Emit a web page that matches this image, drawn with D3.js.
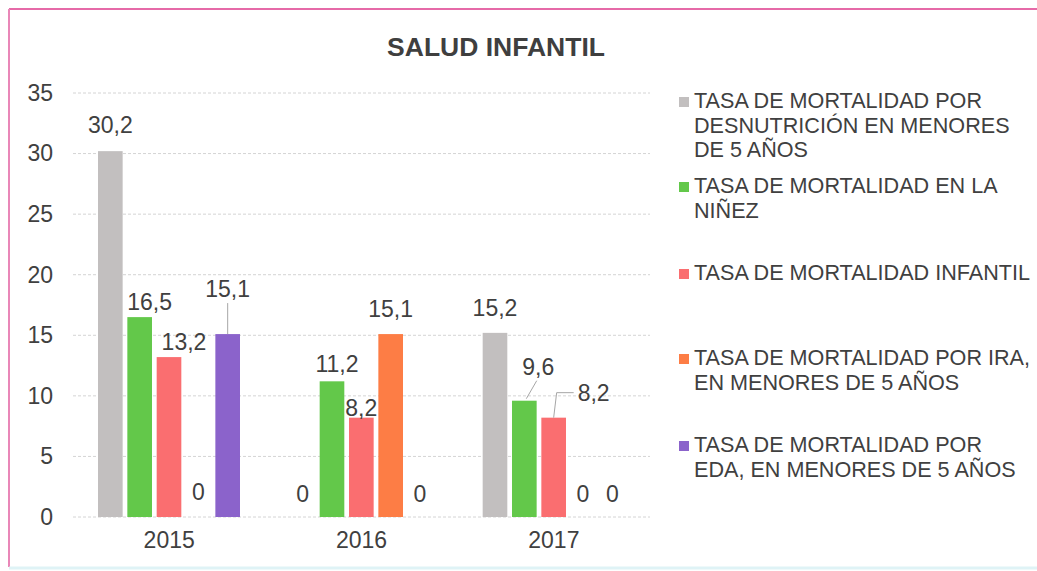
<!DOCTYPE html>
<html>
<head>
<meta charset="utf-8">
<script src="https://cdn.jsdelivr.net/npm/d3@7"></script>
<style>
  html, body { margin: 0; padding: 0; background: #ffffff; }
  svg { display: block; font-family: "Liberation Sans", Arial, sans-serif; }
</style>
</head>
<body>
<svg id="chart" width="1037" height="571"></svg>
<script>
// ---- Data ----
const years = ["2015", "2016", "2017"];
const seriesNames = [
  "TASA DE MORTALIDAD POR DESNUTRICIÓN EN MENORES DE 5 AÑOS",
  "TASA DE MORTALIDAD EN LA NIÑEZ",
  "TASA DE MORTALIDAD INFANTIL",
  "TASA DE MORTALIDAD POR IRA, EN MENORES DE 5 AÑOS",
  "TASA DE MORTALIDAD POR EDA, EN MENORES DE 5 AÑOS"
];
const desnutricion = [30.2, 0, 15.2];
const ninez        = [16.5, 11.2, 9.6];
const infantil     = [13.2, 8.2, 8.2];
const ira          = [0, 15.1, 0];
const eda          = [15.1, 0, 0];
const yTicks = [0, 5, 10, 15, 20, 25, 30, 35];
const title = "SALUD INFANTIL";

// legend line breaks (as in the original)
const legendLines = [
  ["TASA DE MORTALIDAD POR", "DESNUTRICIÓN EN MENORES", "DE 5 AÑOS"],
  ["TASA DE MORTALIDAD EN LA", "NIÑEZ"],
  ["TASA DE MORTALIDAD INFANTIL"],
  ["TASA DE MORTALIDAD POR IRA,", "EN MENORES DE 5 AÑOS"],
  ["TASA DE MORTALIDAD POR", "EDA, EN MENORES DE 5 AÑOS"]
];

// ---- Styling / layout ----
const colors = ["#c2bfbf", "#63c84a", "#fa6e70", "#fd7d45", "#8b63cb"];
const textColor = "#404040";
// label nudges [dx, dy, leader] per series per year (layout only)
const labelLayout = [
  [[0, -1, null], [0, 2, null], [0, 0, null]],
  [[10, 10, null], [5, 8, null], [14, -9, "diag"]],
  [[15, 10, null], [0, 15, null], [40, 0, "elbow"]],
  [[0, 0, null], [0, 0, null], [0, 2, null]],
  [[0, -20, "vert"], [0, 2, null], [0, 2, null]]
];

const allSeries = [desnutricion, ninez, infantil, ira, eda];
const fmt = d3.formatLocale({decimal: ",", thousands: ".", grouping: [3], currency: ["", ""]}).format(".1~f");

const svg = d3.select("#chart");

// frame
svg.append("rect").attr("x", 0).attr("y", 0).attr("width", 1037).attr("height", 571).attr("fill", "#ffffff");
svg.append("line").attr("x1", 9).attr("x2", 1037).attr("y1", 9).attr("y2", 9)
  .attr("stroke", "#e66aa8").attr("stroke-width", 2);
svg.append("line").attr("x1", 9).attr("x2", 9).attr("y1", 9).attr("y2", 567)
  .attr("stroke", "#e987b8").attr("stroke-width", 2);
svg.append("line").attr("x1", 9).attr("x2", 1037).attr("y1", 568).attr("y2", 568)
  .attr("stroke", "#dff3f6").attr("stroke-width", 3);

// title
svg.append("text")
  .attr("x", 496).attr("y", 56)
  .attr("text-anchor", "middle")
  .attr("font-size", 26.5).attr("font-weight", "bold")
  .attr("fill", "#3f3f3f")
  .text(title);

// scales
const y = d3.scaleLinear().domain([0, 35]).range([517, 93]);
const x0 = d3.scaleBand().domain(years).range([73, 650]);
const x1 = d3.scaleBand().domain(d3.range(seriesNames.length)).range([25, 167]).paddingInner(0.16);

// gridlines
svg.append("g")
  .selectAll("line").data(yTicks).join("line")
  .attr("x1", 73).attr("x2", 650)
  .attr("y1", d => y(d)).attr("y2", d => y(d))
  .attr("stroke", "#d4d4d4").attr("stroke-width", 1)
  .attr("stroke-dasharray", "3,2");

// y axis
const yAxis = svg.append("g").attr("transform", "translate(57,0)")
  .call(d3.axisLeft(y).tickValues(yTicks).tickSize(0).tickPadding(4).tickFormat(d3.format("d")));
yAxis.select(".domain").remove();
yAxis.selectAll("text").attr("font-size", 23).attr("fill", textColor)
  .attr("font-family", "Liberation Sans, Arial, sans-serif");

// x axis
const xAxis = svg.append("g").attr("transform", "translate(0,517)")
  .call(d3.axisBottom(x0).tickSize(0).tickPadding(15));
xAxis.select(".domain").remove();
xAxis.selectAll("text").attr("font-size", 23).attr("fill", textColor)
  .attr("font-family", "Liberation Sans, Arial, sans-serif");

// bars
const groups = svg.append("g").selectAll("g").data(years).join("g")
  .attr("transform", d => `translate(${x0(d)},0)`);

groups.each(function(year, yi) {
  const g = d3.select(this);
  allSeries.forEach((vals, si) => {
    const v = vals[yi];
    const bx = x1(si);
    const bw = x1.bandwidth();
    if (v > 0) {
      g.append("rect")
        .attr("x", bx).attr("y", y(v))
        .attr("width", bw).attr("height", y(0) - y(v))
        .attr("fill", colors[si]);
    }
    const [dx, dy, leader] = labelLayout[si][yi];
    const cx = bx + bw / 2;
    const lx = cx + dx;
    const ly = y(v) - 17 + dy;
    const t = g.append("text")
      .attr("x", lx).attr("y", ly)
      .attr("text-anchor", "middle")
      .attr("font-size", 23).attr("fill", textColor)
      .text(fmt(v));
    if (leader) {
      const bb = t.node().getBBox();
      let pts;
      if (leader === "vert") {
        pts = [[cx, y(v)], [cx, bb.y + bb.height + 1]];
      } else if (leader === "diag") {
        pts = [[cx + 2, y(v) - 2], [bb.x + bb.width * 0.45, bb.y + bb.height + 1]];
      } else {
        const my = bb.y + bb.height / 2;
        pts = [[cx, y(v)], [cx + 3, my], [bb.x - 4, my]];
      }
      g.append("path")
        .attr("d", d3.line()(pts))
        .attr("fill", "none").attr("stroke", "#a6a6a6").attr("stroke-width", 1);
    }
  });
});

// legend
const legendTop = [108, 193, 280, 365, 452];
const leg = svg.append("g");
legendLines.forEach((lines, i) => {
  leg.append("rect")
    .attr("x", 679).attr("y", legendTop[i] - 11)
    .attr("width", 10).attr("height", 10)
    .attr("fill", colors[i]);
  const t = leg.append("text")
    .attr("x", 694).attr("y", legendTop[i])
    .attr("font-size", 21.6).attr("fill", textColor);
  lines.forEach((ln, k) => {
    t.append("tspan").attr("x", 694).attr("dy", k === 0 ? 0 : 24.5).text(ln);
  });
});
</script>
</body>
</html>
